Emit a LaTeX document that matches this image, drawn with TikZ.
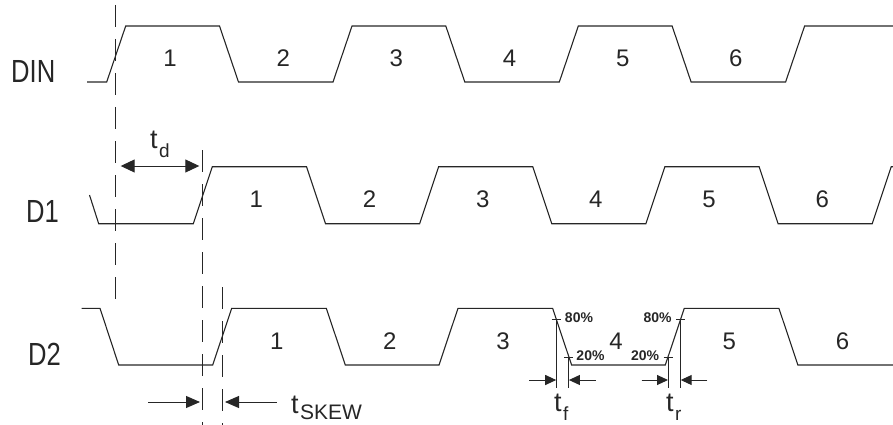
\documentclass[tikz,border=0pt]{standalone}
\usepackage{fontspec}
\setmainfont{Liberation Sans}
\usetikzlibrary{arrows.meta}
\begin{document}
\begin{tikzpicture}[x=1pt,y=-1pt,
  wave/.style={line width=1.1pt, draw=black!85, line join=miter},
  vdash/.style={line width=1pt, draw=black!85, dash pattern=on 22pt off 12pt},
  meas/.style={line width=1pt, draw=black!85},
  bigarr/.style={{Triangle[length=14pt,width=13pt]}-{Triangle[length=14pt,width=13pt]}, line width=1pt, draw=black!85, fill=black!85},
  skarr/.style={-{Triangle[length=14pt,width=12pt]}, line width=1pt, draw=black!85, fill=black!85},
  smallarr/.style={-{Triangle[length=11pt,width=10pt]}, line width=1pt, draw=black!85, fill=black!85},
  sig/.style={font=\fontsize{32}{32}\selectfont, text=black!85, inner sep=0pt, anchor=west},
  num/.style={font=\fontsize{24}{24}\selectfont, text=black!85, inner sep=0pt},
  pct/.style={font=\fontsize{14}{14}\selectfont\bfseries, text=black!85, inner sep=0pt},
  tlab/.style={font=\fontsize{27}{27}\selectfont, text=black!85, inner sep=0pt, anchor=base west},
]
\useasboundingbox (0,0) rectangle (893,425);

% signal names
\node[sig] (lDIN) at (11,71.5) {\scalebox{0.8}[1]{DIN}};
\node[sig] (lD1) at (26,211.5) {\scalebox{0.8}[1]{D1}};
\node[sig] (lD2) at (28,354.5) {\scalebox{0.8}[1]{D2}};

% waveforms
\draw[wave] (87,82) -- (106.7,82) -- (125.7,26) -- (219.5,26) -- (238.5,82) -- (333,82) -- (352,26) -- (445.8,26) -- (464.8,82) -- (559.3,82) -- (578.3,26) -- (672.1,26) -- (691.1,82) -- (785.6,82) -- (804.6,26) -- (893,26);
\draw[wave] (89.5,195) -- (98.7,223.7) -- (193.3,223.7) -- (212.3,166.7) -- (306.5,166.7) -- (325.5,223.7) -- (419.6,223.7) -- (438.6,166.7) -- (532.8,166.7) -- (551.8,223.7) -- (645.9,223.7) -- (664.9,166.7) -- (759.1,166.7) -- (778.1,223.7) -- (872.2,223.7) -- (891.2,166.7) -- (893,166.7);
\draw[wave] (81.7,308.3) -- (100,308.3) -- (118.7,365) -- (212.7,365) -- (231.7,308.3) -- (326.3,308.3) -- (345.3,365) -- (439,365) -- (458,308.3) -- (552.6,308.3) -- (571.6,365) -- (665.3,365) -- (684.3,308.3) -- (778.9,308.3) -- (797.9,365) -- (893,365);

% bit numbers
\foreach \i/\x in {1/170,2/283.2,3/396.3,4/509.5,5/622.7,6/735.8}
  \node[num] (a\i) at (\x,58) {\i};
\foreach \i/\x in {1/256.3,2/369.5,3/482.7,4/595.8,5/709,6/822.2}
  \node[num] (b\i) at (\x,199) {\i};
\foreach \i/\x in {1/276.7,2/389.8,3/503,4/616.1,5/729.3,6/842.5}
  \node[num] (c\i) at (\x,341.5) {\i};

% dashed reference lines
\draw[vdash] (115.7,5) -- (115.7,308);
\draw[vdash] (202.7,150) -- (202.7,425);
\draw[vdash] (222.3,287) -- (222.3,425);

% t_d
\coordinate (tdL) at (120.7,166);
\coordinate (tdR) at (199.3,166);
\draw[bigarr] (tdL) -- (tdR);
\node[tlab] (td) at (150,148) {t\kern1.5pt\raisebox{-9pt}{\fontsize{19}{19}\selectfont d}};

% t_skew
\coordinate (skA) at (148.3,402);
\coordinate (skB) at (200,402);
\coordinate (skC) at (276.7,402);
\coordinate (skD) at (225,402);
\draw[skarr] (skA) -- (skB);
\draw[skarr] (skC) -- (skD);
\node[tlab] (tsk) at (291,413) {t\kern1.5pt\raisebox{-6pt}{\fontsize{21}{21}\selectfont SKEW}};

% t_f
\coordinate (f80) at (556.2,319);
\coordinate (f20) at (568.9,357);
\coordinate (f80b) at (556.2,388);
\coordinate (f20b) at (568.9,388);
\draw[meas] ([xshift=-4.5pt]f80) -- ([xshift=4.5pt]f80);
\draw[meas] ([xshift=-4.5pt]f20) -- ([xshift=4.5pt]f20);
\draw[meas] (f80) -- (f80b);
\draw[meas] (f20) -- (f20b);
\coordinate (fa1) at (529.3,380);
\coordinate (fa2) at (556.2,380);
\coordinate (fa3) at (595.7,380);
\coordinate (fa4) at (568.9,380);
\draw[smallarr] (fa1) -- (fa2);
\draw[smallarr] (fa3) -- (fa4);
\node[pct] (pf80) at (579,318) {80\%};
\node[pct] (pf20) at (590.5,356) {20\%};
\node[tlab] (tf) at (554,411) {t\kern1.5pt\raisebox{-9pt}{\fontsize{19}{19}\selectfont f}};

% t_r
\coordinate (r20) at (668,357);
\coordinate (r80) at (680.7,319);
\coordinate (r20b) at (668,388);
\coordinate (r80b) at (680.7,388);
\draw[meas] ([xshift=-4.5pt]r80) -- ([xshift=4.5pt]r80);
\draw[meas] ([xshift=-4.5pt]r20) -- ([xshift=4.5pt]r20);
\draw[meas] (r80) -- (r80b);
\draw[meas] (r20) -- (r20b);
\coordinate (ra1) at (641.7,380);
\coordinate (ra2) at (668,380);
\coordinate (ra3) at (707,380);
\coordinate (ra4) at (680.7,380);
\draw[smallarr] (ra1) -- (ra2);
\draw[smallarr] (ra3) -- (ra4);
\node[pct] (pr80) at (657.5,318) {80\%};
\node[pct] (pr20) at (645,356) {20\%};
\node[tlab] (tr) at (666,411) {t\kern1.5pt\raisebox{-9pt}{\fontsize{19}{19}\selectfont r}};
\end{tikzpicture}
\end{document}
